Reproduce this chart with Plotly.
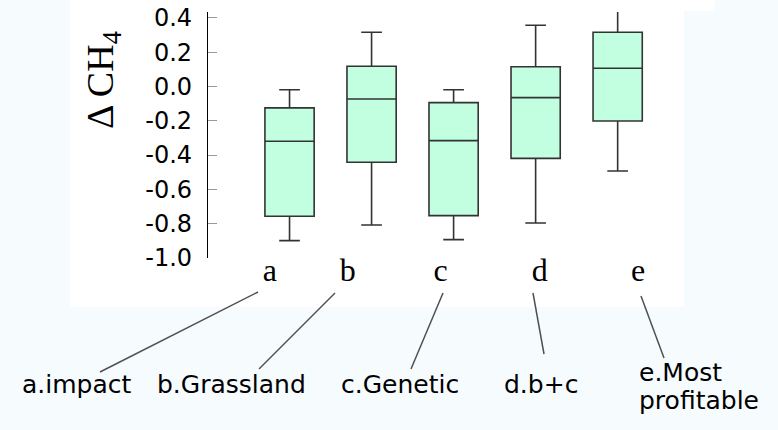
import plotly.graph_objects as go

# ---- data ----
categories = ["a", "b", "c", "d", "e"]
box_positions = [0, 1, 2, 3, 4]
q1_values = [-0.757, -0.442, -0.753, -0.419, -0.201]
median_values = [-0.319, -0.073, -0.316, -0.065, 0.106]
q3_values = [-0.125, 0.118, -0.094, 0.115, 0.316]
lower_whisker = [-0.899, -0.808, -0.893, -0.796, -0.493]
upper_whisker = [-0.019, 0.316, -0.019, 0.357, 0.50]

category_tick_positions = [-0.24, 0.71, 1.84, 3.05, 4.25]
y_tick_values = [-1.0, -0.8, -0.6, -0.4, -0.2, 0.0, 0.2, 0.4]
y_tick_labels = ["-1.0", "-0.8", "-0.6", "-0.4", "-0.2", "0.0", "0.2", "0.4"]

scenario_labels = ["a.impact", "b.Grassland", "c.Genetic", "d.b+c", "e.Most", "profitable"]

# ---- layout geometry (pixels) ----
W, H = 778, 430
L, R, T, B = 208, 680, 12, 258


def px(x):
    return (x - L) / (R - L)


def py(y):
    return (B - y) / (B - T)


fig = go.Figure()
fig.add_trace(go.Box(
    x=box_positions,
    q1=q1_values, median=median_values, q3=q3_values,
    lowerfence=lower_whisker, upperfence=upper_whisker,
    fillcolor="#C1FFE0",
    line=dict(color="#333333", width=1.6),
    width=0.6, whiskerwidth=0.42,
    boxpoints=False, showlegend=False,
))

# background panels
shapes = [
    dict(type="rect", xref="paper", yref="paper", x0=px(70), x1=px(684), y0=py(307), y1=py(-2),
         fillcolor="white", line=dict(width=0), layer="below"),
    dict(type="rect", xref="paper", yref="paper", x0=px(684), x1=px(715), y0=py(11), y1=py(-2),
         fillcolor="white", line=dict(width=0), layer="below"),
]

# connector lines from letters to scenario names (pixel endpoints)
connectors = [
    ((258, 292), (100, 372)),
    ((335, 293), (259, 369)),
    ((443, 293), (411, 369)),
    ((533, 293), (544, 354)),
    ((641, 296), (664, 358)),
]
for (x0, y0), (x1, y1) in connectors:
    shapes.append(dict(type="line", xref="paper", yref="paper",
                       x0=px(x0), y0=py(y0), x1=px(x1), y1=py(y1),
                       line=dict(color="#505050", width=1.5), layer="above"))

label_font = dict(family="DejaVu Sans", size=25, color="black")
label_places = [  # (x, baseline y, anchor)
    (77, 393, "center"),
    (231, 393, "center"),
    (400, 393, "center"),
    (541, 393, "center"),
    (637, 380, "left"),
    (637, 408, "left"),
]
annotations = []
for text, (x, yb, anc) in zip(scenario_labels, label_places):
    annotations.append(dict(text=text, xref="paper", yref="paper", x=px(x), y=py(yb - 8),
                            xanchor=anc, yanchor="middle", showarrow=False, font=label_font))

annotations.append(dict(text="Δ CH<sub>4</sub>", xref="paper", yref="paper", x=px(103), y=py(80),
                        xanchor="center", yanchor="middle", textangle=-90, showarrow=False,
                        font=dict(family="Liberation Serif", size=38, color="black")))

fig.update_layout(
    width=W, height=H,
    margin=dict(l=L, r=W - R, t=T, b=H - B, autoexpand=False),
    paper_bgcolor="#F6FBFE",
    plot_bgcolor="white",
    shapes=shapes,
    annotations=annotations,
    xaxis=dict(range=[-0.994, 4.76], showline=False, showgrid=False, zeroline=False,
               anchor="free", position=0.04,
               ticks="", tickvals=category_tick_positions, ticktext=categories,
               tickfont=dict(family="Liberation Serif", size=32, color="black")),
    yaxis=dict(range=[-1.0, 0.434], showline=True, linecolor="black", linewidth=1.3,
               showgrid=False, zeroline=False, ticks="inside", ticklen=9, tickwidth=1,
               tickcolor="#999999", tickvals=y_tick_values, ticktext=y_tick_labels,
               ticklabelstandoff=10,
               tickfont=dict(family="DejaVu Sans", size=24, color="black")),
)

fig.write_html("out.html")
